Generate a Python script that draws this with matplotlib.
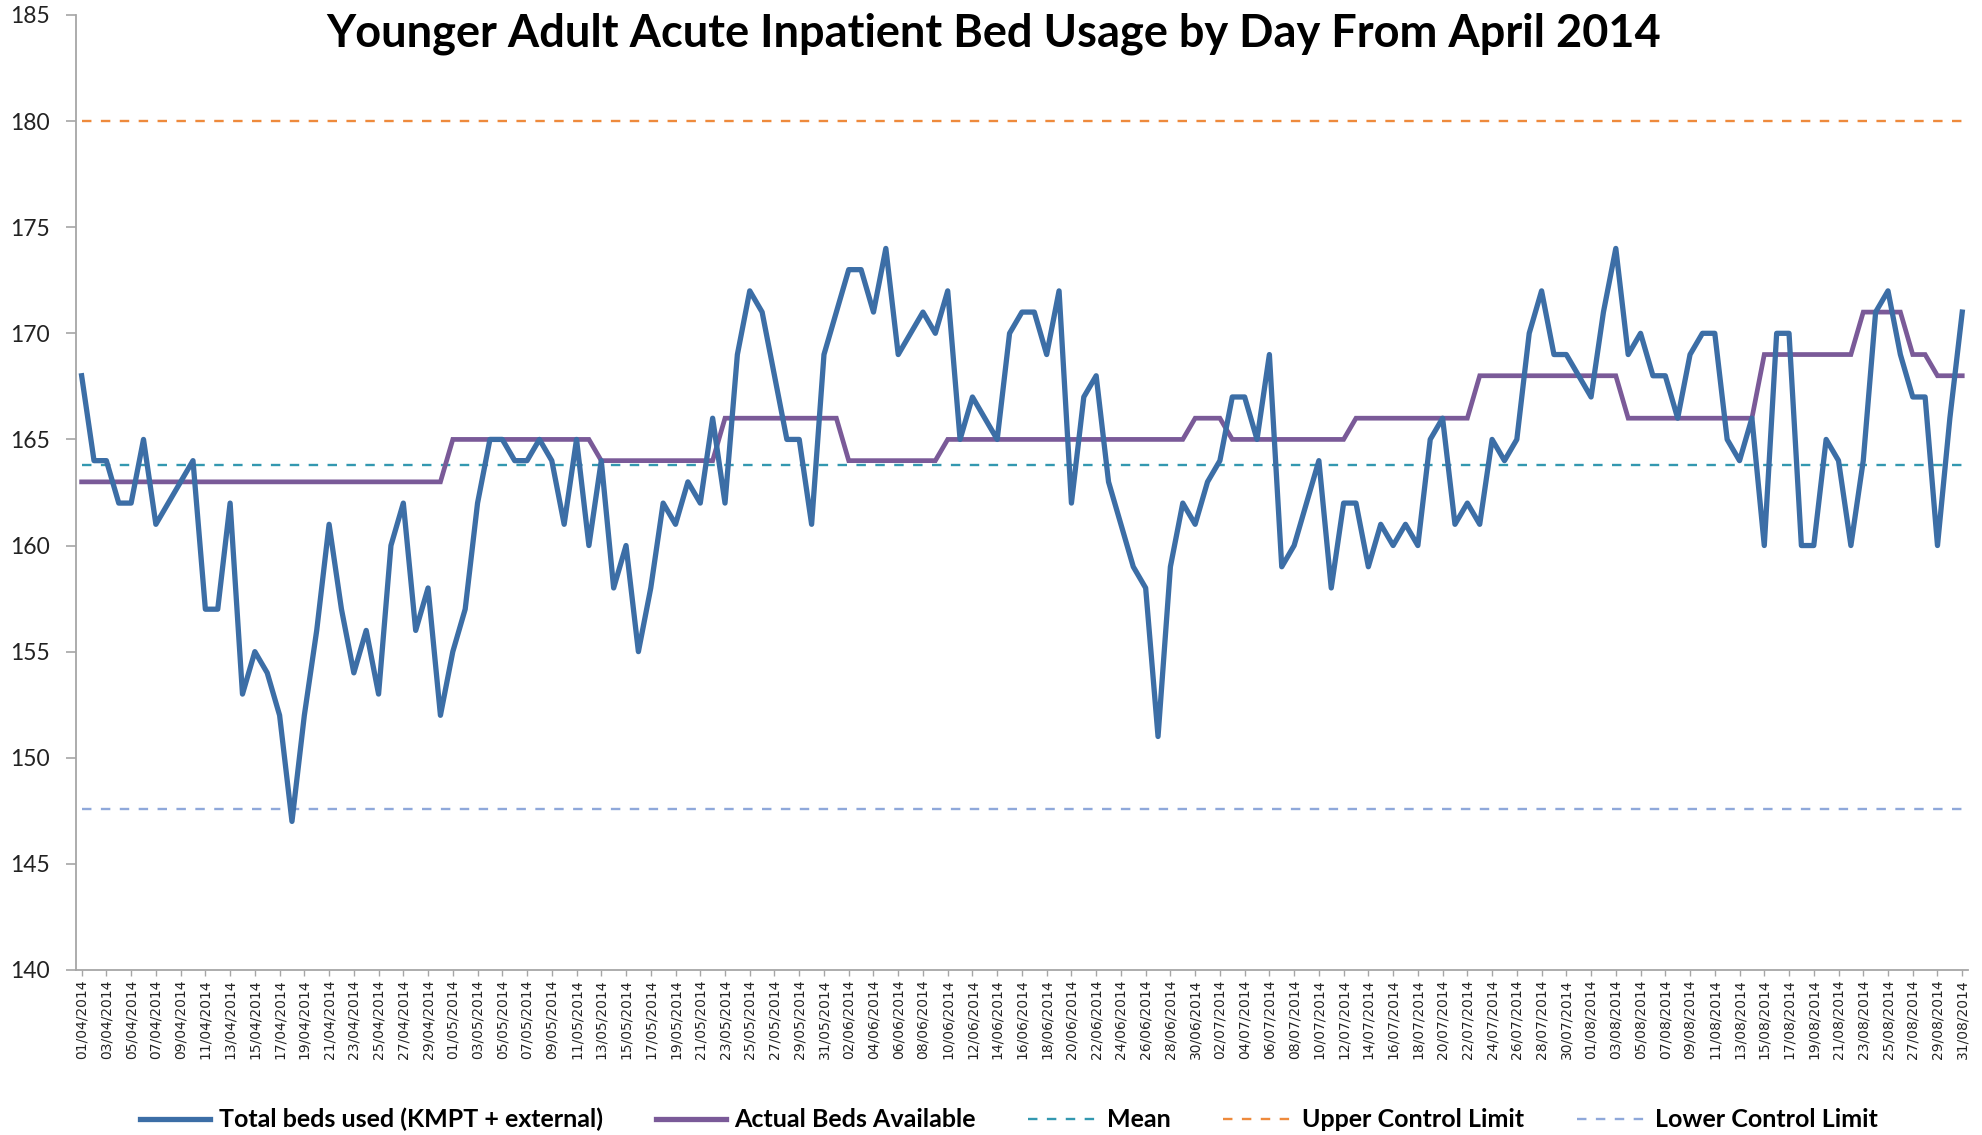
import numpy as np
import pandas as pd
import matplotlib
matplotlib.use("Agg")
import matplotlib.pyplot as plt
from matplotlib.lines import Line2D

# daily values, 01/04/2014 .. 31/08/2014
beds_used = [
    168, 164, 164, 162, 162, 165, 161, 162, 163, 164,
    157, 157, 162, 153, 155, 154, 152, 147, 152, 156,
    161, 157, 154, 156, 153, 160, 162, 156, 158, 152,
    155, 157, 162, 165, 165, 164, 164, 165, 164, 161,
    165, 160, 164, 158, 160, 155, 158, 162, 161, 163,
    162, 166, 162, 169, 172, 171, 168, 165, 165, 161,
    169, 171, 173, 173, 171, 174, 169, 170, 171, 170,
    172, 165, 167, 166, 165, 170, 171, 171, 169, 172,
    162, 167, 168, 163, 161, 159, 158, 151, 159, 162,
    161, 163, 164, 167, 167, 165, 169, 159, 160, 162,
    164, 158, 162, 162, 159, 161, 160, 161, 160, 165,
    166, 161, 162, 161, 165, 164, 165, 170, 172, 169,
    169, 168, 167, 171, 174, 169, 170, 168, 168, 166,
    169, 170, 170, 165, 164, 166, 160, 170, 170, 160,
    160, 165, 164, 160, 164, 171, 172, 169, 167, 167,
    160, 166, 171,
]

beds_available = [
    163, 163, 163, 163, 163, 163, 163, 163, 163, 163,
    163, 163, 163, 163, 163, 163, 163, 163, 163, 163,
    163, 163, 163, 163, 163, 163, 163, 163, 163, 163,
    165, 165, 165, 165, 165, 165, 165, 165, 165, 165,
    165, 165, 164, 164, 164, 164, 164, 164, 164, 164,
    164, 164, 166, 166, 166, 166, 166, 166, 166, 166,
    166, 166, 164, 164, 164, 164, 164, 164, 164, 164,
    165, 165, 165, 165, 165, 165, 165, 165, 165, 165,
    165, 165, 165, 165, 165, 165, 165, 165, 165, 165,
    166, 166, 166, 165, 165, 165, 165, 165, 165, 165,
    165, 165, 165, 166, 166, 166, 166, 166, 166, 166,
    166, 166, 166, 168, 168, 168, 168, 168, 168, 168,
    168, 168, 168, 168, 168, 166, 166, 166, 166, 166,
    166, 166, 166, 166, 166, 166, 169, 169, 169, 169,
    169, 169, 169, 169, 171, 171, 171, 171, 169, 169,
    168, 168, 168,
]

MEAN = 163.8
UCL = 180.0
LCL = 147.6

dates = pd.date_range("2014-04-01", "2014-08-31", freq="D")
date_labels = dates.strftime("%d/%m/%Y")

series_names = ["Total beds used (KMPT + external)", "Actual Beds Available",
                "Mean", "Upper Control Limit", "Lower Control Limit"]
colors = ["#3c6ea6", "#7a5a98", "#3398b0", "#ee8a3c", "#8fa8da"]

days = np.arange(len(dates))
n = len(days)

fig = plt.figure(figsize=(19.83, 11.35), dpi=100)
ax = fig.add_axes([0.0383, 0.1454, 0.9541, 0.8414])

dash = (0, (4, 4))
ax.plot(days, np.full(n, UCL), color=colors[3], lw=1.7, ls=dash)
ax.plot(days, np.full(n, MEAN), color=colors[2], lw=1.7, ls=dash)
ax.plot(days, np.full(n, LCL), color=colors[4], lw=1.7, ls=dash)
ax.plot(days, beds_available, color=colors[1], lw=3.4, solid_joinstyle="miter")
ax.plot(days, beds_used, color=colors[0], lw=3.8, solid_joinstyle="round")

ax.set_xlim(-0.46, n - 1 + 0.46)
ax.set_ylim(140, 185)
ax.set_yticks(np.arange(140, 186, 5))
ax.set_xticks(days[::2])
ax.set_xticklabels(date_labels[::2], rotation=90, fontsize=10,
                   family="DejaVu Sans", color="#222222")

for t in ax.get_yticklabels():
    t.set_family("Lato")
    t.set_fontsize(16.5)
    t.set_color("#222222")

for s in ["top", "right"]:
    ax.spines[s].set_visible(False)
for s in ["left", "bottom"]:
    ax.spines[s].set_color("#a6a6a6")
    ax.spines[s].set_linewidth(1.3)
ax.tick_params(axis="y", length=7, width=1.2, color="#a6a6a6", pad=12)
ax.tick_params(axis="x", length=4, width=1.0, color="#a6a6a6", pad=3)

fig.text(0.501, 0.970, "Younger Adult Acute Inpatient Bed Usage by Day From April 2014",
         ha="center", va="center", fontsize=32.5, fontweight="bold", family="Lato")

handles = [
    Line2D([], [], color=colors[0], lw=3.8),
    Line2D([], [], color=colors[1], lw=3.8),
    Line2D([], [], color=colors[2], lw=1.7, ls=dash),
    Line2D([], [], color=colors[3], lw=1.7, ls=dash),
    Line2D([], [], color=colors[4], lw=1.7, ls=dash),
]
fig.legend(handles, series_names, loc="center", bbox_to_anchor=(0.509, 0.0135),
           ncol=5, frameon=False, handlelength=2.8, handletextpad=0.35,
           columnspacing=2.1,
           prop={"family": "Lato", "weight": "bold", "size": 18})

fig.savefig("out.png", dpi=100)
